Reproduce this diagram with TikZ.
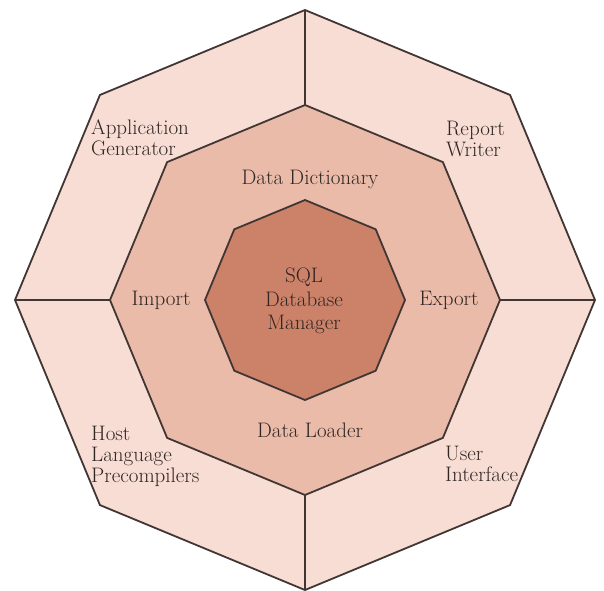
\documentclass[tikz,border=0pt]{standalone}
\usepackage{fontspec}
\usetikzlibrary{calc}
\definecolor{outerfill}{RGB}{247,221,211}
\definecolor{midfill}{RGB}{234,187,169}
\definecolor{innerfill}{RGB}{203,130,104}
\definecolor{edge}{RGB}{66,54,52}
\definecolor{ink}{RGB}{48,38,36}
\tikzset{
  ring/.style={draw=edge, line width=1.8pt, line join=miter},
  divider/.style={draw=edge, line width=1.8pt},
  lbl/.style={text=ink, inner sep=0pt, font=\fontsize{21}{21}\selectfont},
}
\begin{document}
\begin{tikzpicture}[x=1pt,y=-1pt]
\useasboundingbox (0,0) rectangle (604,590);
\coordinate (C) at (305,300);
\foreach \i in {0,...,7}{
  \coordinate (O\i) at ($(C)+(90-45*\i:290pt)$);
  \coordinate (M\i) at ($(C)+(90-45*\i:195pt)$);
  \coordinate (I\i) at ($(C)+(90-45*\i:100pt)$);
}
\path[ring, fill=outerfill] (O0)--(O1)--(O2)--(O3)--(O4)--(O5)--(O6)--(O7)--cycle;
\draw[divider] (M0) -- (O0);
\draw[divider] (M2) -- (O2);
\draw[divider] (M4) -- (O4);
\draw[divider] (M6) -- (O6);
\path[ring, fill=midfill] (M0)--(M1)--(M2)--(M3)--(M4)--(M5)--(M6)--(M7)--cycle;
\path[ring, fill=innerfill] (I0)--(I1)--(I2)--(I3)--(I4)--(I5)--(I6)--(I7)--cycle;

\node[lbl, anchor=west, align=left] (app) at (91,138) {Application\\Generator};
\node[lbl, anchor=west, align=left] (rep) at (446,139) {Report\\Writer};
\node[lbl] (dict) at (310,179) {Data Dictionary};
\node[lbl] (imp) at (161,300) {Import};
\node[lbl] (exp) at (449,300) {Export};
\node[lbl, align=center, font=\fontsize{21}{23.5}\selectfont] (sql) at (304,301) {SQL\\Database\\Manager};
\node[lbl] (load) at (310,430) {Data Loader};
\node[lbl, anchor=west, align=left] (host) at (91,456) {Host\\Language\\Precompilers};
\node[lbl, anchor=west, align=left] (ui) at (445,464) {User\\Interface};
\end{tikzpicture}
\end{document}
